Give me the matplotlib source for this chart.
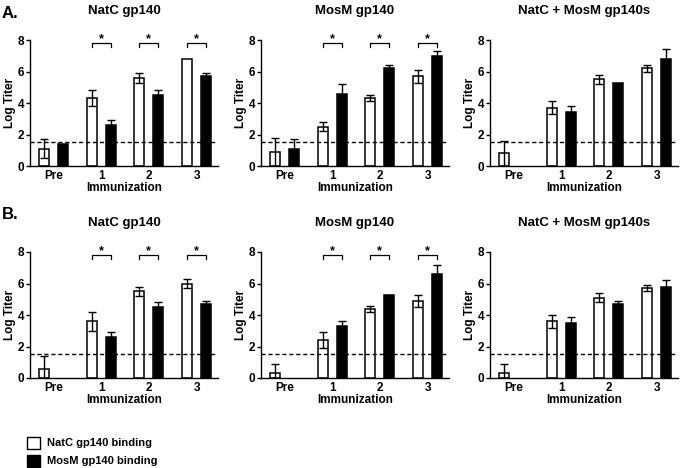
import numpy as np
import matplotlib
matplotlib.use("Agg")
import matplotlib.pyplot as plt
from matplotlib.patches import Rectangle

plt.rcParams['font.family'] = ['Liberation Sans', 'DejaVu Sans']
plt.rcParams['font.weight'] = 'bold'

groups = ["Pre", "1", "2", "3"]
titles = ["NatC gp140", "MosM gp140", "NatC + MosM gp140s"]
legend_labels = ["NatC gp140 binding", "MosM gp140 binding"]
cutoff = 1.5

# row A: white (NatC binding) and black (MosM binding) means and errors
a_white = [[1.1, 4.3, 5.6, 6.8], [0.9, 2.5, 4.3, 5.7], [0.8, 3.7, 5.5, 6.2]]
a_white_err = [[0.6, 0.5, 0.3, 0.0], [0.9, 0.3, 0.2, 0.4], [0.8, 0.4, 0.3, 0.2]]
a_black = [[1.4, 2.6, 4.5, 5.7], [1.1, 4.6, 6.2, 7.0], [0.0, 3.4, 5.3, 6.8]]
a_black_err = [[0.0, 0.3, 0.3, 0.2], [0.6, 0.6, 0.2, 0.3], [0.0, 0.4, 0.0, 0.6]]

# row B
b_white = [[0.6, 3.6, 5.5, 6.0], [0.3, 2.4, 4.4, 4.9], [0.3, 3.6, 5.1, 5.7]]
b_white_err = [[0.8, 0.6, 0.3, 0.3], [0.6, 0.5, 0.2, 0.4], [0.6, 0.4, 0.3, 0.2]]
b_black = [[0.0, 2.6, 4.5, 4.7], [0.0, 3.3, 5.3, 6.6], [0.0, 3.5, 4.7, 5.8]]
b_black_err = [[0.0, 0.3, 0.3, 0.2], [0.0, 0.3, 0.0, 0.6], [0.0, 0.4, 0.2, 0.4]]

# which groups get a significance bracket, per panel
stars = [[1, 2, 3], [1, 2, 3], []]

fig = plt.figure(figsize=(6.8, 4.68), dpi=100)

lefts = [30 / 680, 261 / 680, 490 / 680]
width = 188 / 680
bottoms = [1 - 166 / 468, 1 - 378 / 468]
height = 126 / 468

rows = [(a_white, a_white_err, a_black, a_black_err),
        (b_white, b_white_err, b_black, b_black_err)]

x = np.arange(len(groups))
off = 0.2
bw = 0.21


def draw_bars(ax, xs, vals, errs, color):
    vals = np.array(vals)
    errs = np.array(errs)
    keep = vals > 0
    ax.bar(xs[keep], vals[keep], bw, color=color, edgecolor="black", linewidth=1.1, zorder=2)
    e = keep & (errs > 0)
    ax.errorbar(xs[e], vals[e], yerr=errs[e], fmt="none", ecolor="black",
                elinewidth=1, capsize=3, capthick=1, zorder=3)


for r, (wv, we, bv, be) in enumerate(rows):
    for c in range(3):
        ax = fig.add_axes([lefts[c], bottoms[r], width, height])
        draw_bars(ax, x - off, wv[c], we[c], "white")
        draw_bars(ax, x + off, bv[c], be[c], "black")
        ax.axhline(cutoff, color="black", linestyle=(0, (3, 2)), linewidth=1, zorder=4)

        for g in stars[c]:
            x0, x1 = g - off, g + off
            ax.plot([x0, x0, x1, x1], [7.55, 7.8, 7.8, 7.55], color="black",
                    linewidth=0.9, clip_on=False)
            ax.text(g, 7.7, "*", ha="center", va="bottom", fontsize=9, fontweight="bold")

        ax.set_xlim(-0.49, 3.45)
        ax.set_ylim(0, 8)
        ax.set_yticks([0, 2, 4, 6, 8])
        ax.set_xticks(x)
        ax.set_xticklabels(groups)
        ax.tick_params(axis="x", length=0, pad=3, labelsize=8.5)
        ax.tick_params(axis="y", length=3, width=1, pad=1, labelsize=8.5)
        for lab in ax.get_xticklabels() + ax.get_yticklabels():
            lab.set_fontweight("bold")
        ax.spines["top"].set_visible(False)
        ax.spines["right"].set_visible(False)
        ax.spines["left"].set_linewidth(1)
        ax.spines["bottom"].set_linewidth(1)
        ax.set_xlabel("Immunization", fontsize=8.5, fontweight="bold", labelpad=0)
        ax.set_ylabel("Log Titer", fontsize=8.5, fontweight="bold", labelpad=1)
        ax.set_title(titles[c], fontsize=9.5, fontweight="bold", pad=19)

fig.text(0.003, 1 - 14 / 468, "A.", fontsize=12, fontweight="bold", va="center")
fig.text(0.003, 1 - 215 / 468, "B.", fontsize=12, fontweight="bold", va="center")

# legend boxes
for i, (lab, col) in enumerate(zip(legend_labels, ["white", "black"])):
    y = 1 - (449 + i * 18) / 468
    fig.patches.append(Rectangle((27 / 680, y), 13 / 680, 12 / 468, transform=fig.transFigure,
                                 facecolor=col, edgecolor="black", linewidth=1))
    fig.text(47 / 680, y + 6 / 468, lab, fontsize=8, fontweight="bold", va="center")

fig.savefig("out.png", dpi=100)
